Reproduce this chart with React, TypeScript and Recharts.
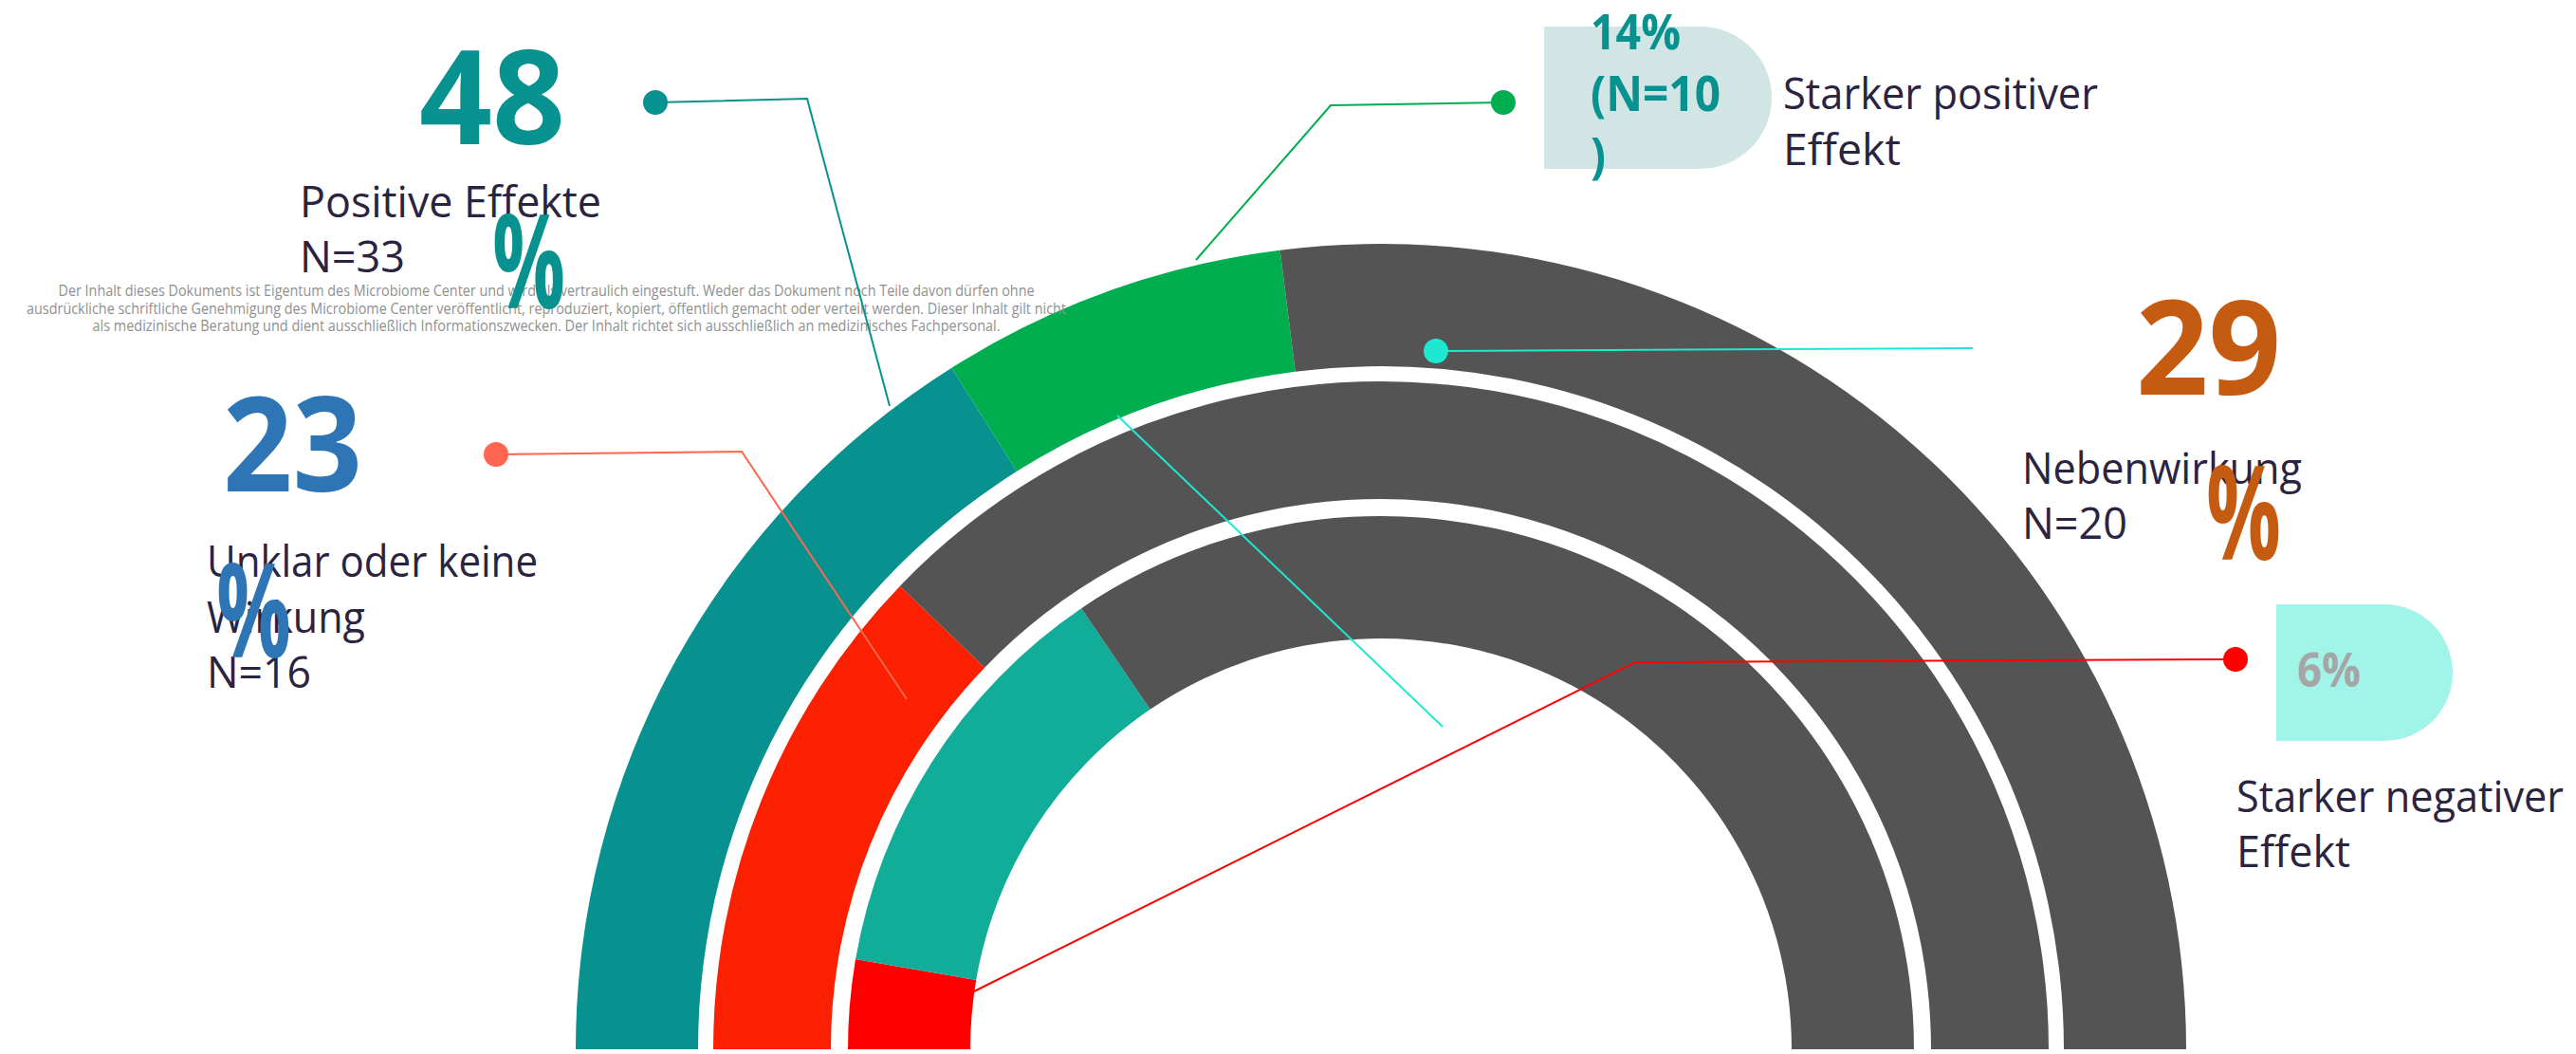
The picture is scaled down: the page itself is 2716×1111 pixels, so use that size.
import { PieChart, Pie, Cell } from 'recharts';

document.body.style.margin = '0';

const W = 2716;
const H = 1111;

// rings, in percent of the half circle
const OUTER_NAMES = ['Positive Effekte', 'Starker positiver Effekt', 'Rest'];
const OUTER_VALUES = [32.1, 13.9, 54];
const MIDDLE_NAMES = ['Unklar oder keine Wirkung', 'Rest'];
const MIDDLE_VALUES = [24.4, 75.6];
const INNER_NAMES = ['Starker negativer Effekt', 'Nebenwirkung', 'Rest'];
const INNER_VALUES = [5.4, 25.6, 69];

const OUTER_COLORS = ['#07918F', '#00AE50', '#545454'];
const MIDDLE_COLORS = ['#FB2100', '#545454'];
const INNER_COLORS = ['#FF0000', '#12AD99', '#545454'];

// callout texts
const BIG_VALUES = ['48', '23', '29'];
const BIG_COLORS = ['#07918F', '#2E75B6', '#C55A11'];
const POS_LABEL = ['Positive Effekte', 'N=33'];
const UNCLEAR_LABEL = ['Unklar oder keine', 'Wirkung', 'N=16'];
const SIDE_LABEL = ['Nebenwirkung', 'N=20'];
const STRONG_POS_BOX = ['14%', '(N=10', ')'];
const STRONG_POS_LABEL = ['Starker positiver', 'Effekt'];
const STRONG_NEG_BOX = ['6%'];
const STRONG_NEG_LABEL = ['Starker negativer', 'Effekt'];
const DISCLAIMER = [
  'Der Inhalt dieses Dokuments ist Eigentum des Microbiome Center und wird als vertraulich eingestuft. Weder das Dokument noch Teile davon dürfen ohne',
  'ausdrückliche schriftliche Genehmigung des Microbiome Center veröffentlicht, reproduziert, kopiert, öffentlich gemacht oder verteilt werden. Dieser Inhalt gilt nicht',
  'als medizinische Beratung und dient ausschließlich Informationszwecken. Der Inhalt richtet sich ausschließlich an medizinisches Fachpersonal.',
];

const FONT = '"Open Sans", "Noto Sans", sans-serif';
const NAVY = '#2A2440';

const CX = 1456;
const CY = 1106;

const toData = (names: string[], values: number[]) =>
  names.map((name, i) => ({ name, value: values[i] }));

function Txt({
  x,
  y,
  w,
  size,
  fill,
  bold,
  anchor,
  children,
}: {
  x: number;
  y: number;
  w?: number;
  size: number;
  fill: string;
  bold?: boolean;
  anchor?: 'start' | 'middle' | 'end';
  children: string;
}) {
  return (
    <text
      x={x}
      y={y}
      fontSize={size}
      fontFamily={FONT}
      fontWeight={bold ? 700 : 400}
      fill={fill}
      textAnchor={anchor ?? 'start'}
      textLength={w}
      lengthAdjust={w ? 'spacingAndGlyphs' : undefined}
    >
      {children}
    </text>
  );
}

function Leader({ points, color, dot }: { points: number[][]; color: string; dot?: number[] }) {
  return (
    <g>
      <polyline
        points={points.map((p) => p.join(',')).join(' ')}
        fill="none"
        stroke={color}
        strokeWidth={2}
      />
      {dot && <ellipse cx={dot[0]} cy={dot[1]} rx={13} ry={13} fill={color} />}
    </g>
  );
}

function Ring({
  names,
  values,
  colors,
  inner,
  outer,
}: {
  names: string[];
  values: number[];
  colors: string[];
  inner: number;
  outer: number;
}) {
  const data = toData(names, values);
  return (
    <Pie
      data={data}
      dataKey="value"
      nameKey="name"
      cx={CX}
      cy={CY}
      startAngle={180}
      endAngle={0}
      innerRadius={inner}
      outerRadius={outer}
      stroke="none"
      isAnimationActive={false}
    >
      {data.map((d, i) => (
        <Cell key={d.name} fill={colors[i]} />
      ))}
    </Pie>
  );
}

export default function App() {
  const outerData = toData(OUTER_NAMES, OUTER_VALUES);
  const middleData = toData(MIDDLE_NAMES, MIDDLE_VALUES);
  const innerData = toData(INNER_NAMES, INNER_VALUES);

  return (
    <div style={{ position: 'relative', width: W, height: H, overflow: 'hidden', background: '#fff' }}>
      <PieChart width={W} height={H} margin={{ top: 0, right: 0, bottom: 0, left: 0 }}>
        <Pie
          data={outerData}
          dataKey="value"
          cx={CX}
          cy={CY}
          startAngle={180}
          endAngle={0}
          innerRadius={720}
          outerRadius={849}
          stroke="none"
          isAnimationActive={false}
        >
          {outerData.map((d, i) => (
            <Cell key={d.name} fill={OUTER_COLORS[i]} />
          ))}
        </Pie>
        <Pie
          data={middleData}
          dataKey="value"
          cx={CX}
          cy={CY}
          startAngle={180}
          endAngle={0}
          innerRadius={580}
          outerRadius={704}
          stroke="none"
          isAnimationActive={false}
        >
          {middleData.map((d, i) => (
            <Cell key={d.name} fill={MIDDLE_COLORS[i]} />
          ))}
        </Pie>
        <Pie
          data={innerData}
          dataKey="value"
          cx={CX}
          cy={CY}
          startAngle={180}
          endAngle={0}
          innerRadius={433}
          outerRadius={562}
          stroke="none"
          isAnimationActive={false}
        >
          {innerData.map((d, i) => (
            <Cell key={d.name} fill={INNER_COLORS[i]} />
          ))}
        </Pie>
      </PieChart>

      <svg
        width={W}
        height={H}
        style={{ position: 'absolute', left: 0, top: 0, pointerEvents: 'none' }}
      >
        {/* disclaimer */}
        {DISCLAIMER.map((line, i) => (
          <Txt key={i} x={576} y={312 + i * 18.5} w={[1029, 1096, 957][i]} size={15.5} fill="#909090" anchor="middle">
            {line}
          </Txt>
        ))}

        {/* boxes */}
        <path d="M1628,28 H1793 A75,75 0 0 1 1793,178 H1628 Z" fill="#D1E6E4" />
        <path d="M2400,637 H2514 A72,72 0 0 1 2514,781 H2400 Z" fill="#A0F5E8" />

        {/* leader lines */}
        <Leader points={[[691, 108], [851, 104], [938, 428]]} color="#07918F" dot={[691, 108]} />
        <Leader points={[[1585, 108], [1403, 111], [1261, 274]]} color="#00AE50" dot={[1585, 108]} />
        <Leader points={[[1514, 370], [2080, 367]]} color="#1DE9D2" dot={[1514, 370]} />
        <Leader points={[[1178, 438], [1521, 766]]} color="#1DE9D2" />
        <Leader points={[[523, 479], [782, 476], [956, 737]]} color="#FF6550" dot={[523, 479]} />
        <Leader points={[[2357, 695], [1724, 698], [1025, 1046]]} color="#FF0000" dot={[2357, 695]} />

        {/* category labels */}
        {POS_LABEL.map((t, i) => (
          <Txt key={t} x={316} y={229 + i * 58} w={[318, 111][i]} size={45} fill={NAVY}>
            {t}
          </Txt>
        ))}
        {UNCLEAR_LABEL.map((t, i) => (
          <Txt key={t} x={218} y={608 + i * 58.5} w={[349, 167, 110][i]} size={45} fill={NAVY}>
            {t}
          </Txt>
        ))}
        {SIDE_LABEL.map((t, i) => (
          <Txt key={t} x={2132} y={510 + i * 58} w={[295, 111][i]} size={45} fill={NAVY}>
            {t}
          </Txt>
        ))}
        {STRONG_POS_LABEL.map((t, i) => (
          <Txt key={t} x={1880} y={115 + i * 59} w={[332, 124][i]} size={45} fill={NAVY}>
            {t}
          </Txt>
        ))}
        {STRONG_NEG_LABEL.map((t, i) => (
          <Txt key={t} x={2358} y={856 + i * 58} w={[345, 120][i]} size={45} fill={NAVY}>
            {t}
          </Txt>
        ))}

        {/* box values */}
        {STRONG_POS_BOX.map((t, i) => (
          <Txt key={t} x={1677} y={52 + i * 65} w={[95, 137, 16][i]} size={52} fill="#07918F" bold>
            {t}
          </Txt>
        ))}
        {STRONG_NEG_BOX.map((t) => (
          <Txt key={t} x={2422} y={724} w={67} size={50} fill="#A6A6A6" bold>
            {t}
          </Txt>
        ))}

        {/* big percentages, the % wraps to its own line */}
        <Txt x={442} y={152} w={154} size={139} fill={BIG_COLORS[0]} bold>
          {BIG_VALUES[0]}
        </Txt>
        <Txt x={519} y={325} w={77} size={139} fill={BIG_COLORS[0]} bold>
          %
        </Txt>
        <Txt x={235} y={518} w={147} size={139} fill={BIG_COLORS[1]} bold>
          {BIG_VALUES[1]}
        </Txt>
        <Txt x={228} y={693} w={79} size={139} fill={BIG_COLORS[1]} bold>
          %
        </Txt>
        <Txt x={2252} y={416} w={153} size={139} fill={BIG_COLORS[2]} bold>
          {BIG_VALUES[2]}
        </Txt>
        <Txt x={2326} y={590} w={79} size={139} fill={BIG_COLORS[2]} bold>
          %
        </Txt>
      </svg>
    </div>
  );
}
